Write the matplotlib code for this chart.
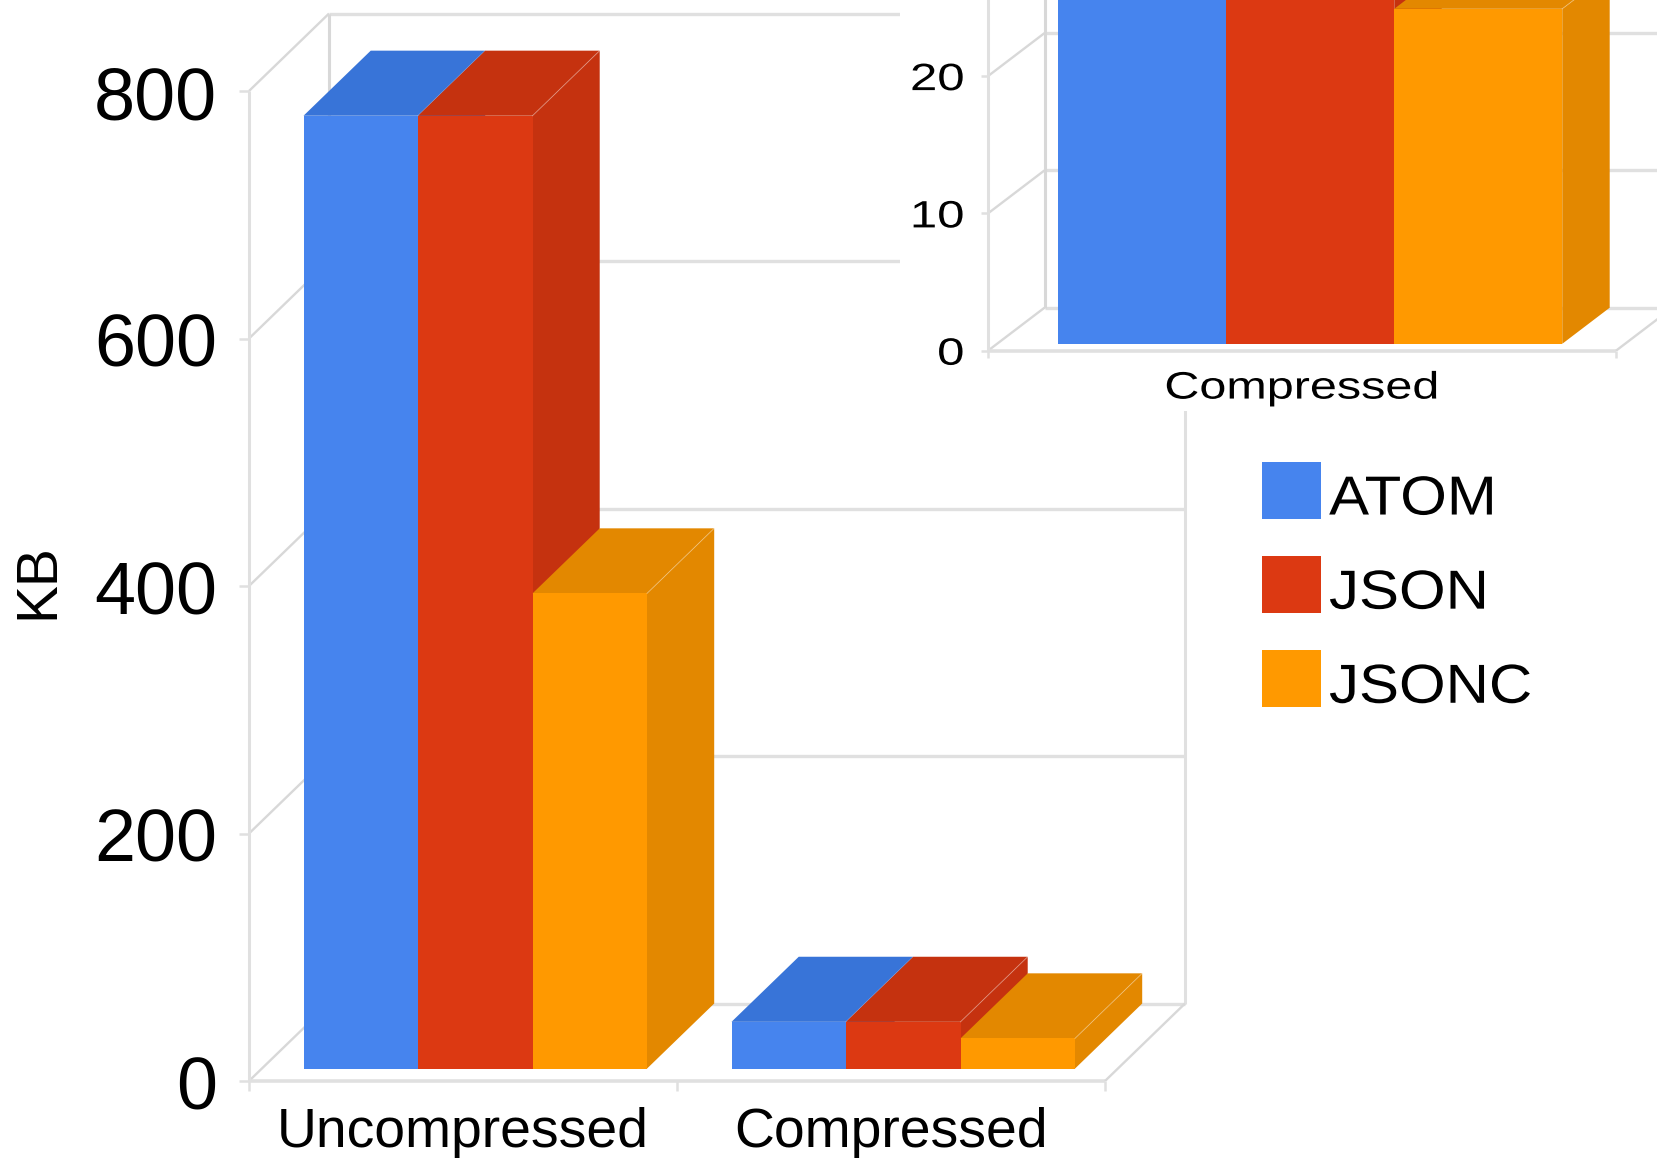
import matplotlib
matplotlib.use('Agg')
import matplotlib.pyplot as plt
from matplotlib.patches import Patch, Polygon, Rectangle
from matplotlib.patheffects import AbstractPathEffect
from matplotlib.transforms import Affine2D, ScaledTranslation

W, H = 1657, 1158

plt.rcParams['font.family'] = ['Liberation Sans', 'DejaVu Sans']

series_names = ['ATOM', 'JSON', 'JSONC']
categories = ['Uncompressed', 'Compressed']
atom_kb = [770, 37.8]
json_kb = [770, 37.8]
jsonc_kb = [384, 24.4]
kb_ticks = [0, 200, 400, 600, 800]

zoom_categories = ['Compressed']
zoom_ticks = [0, 10, 20]
zoom_grid = [0, 10, 20, 30]

front_colors = ['#4684EE', '#DC3912', '#FF9900']
shade_colors = ['#3874D8', '#C5320F', '#E38800']
GRID = '#E0E0E0'
WALL = '#D8D8D8'


class StretchX(AbstractPathEffect):
    # widen glyphs horizontally, keeping one edge of the text fixed
    def __init__(self, sx, anchor='center'):
        super().__init__()
        self.sx = sx
        self.anchor = anchor

    def draw_path(self, renderer, gc, tpath, affine, rgbFace=None):
        box = tpath.get_extents(affine)
        if self.anchor == 'right':
            cx = box.x1
        elif self.anchor == 'left':
            cx = box.x0
        else:
            cx = (box.x0 + box.x1) / 2
        stretched = affine + Affine2D().translate(-cx, 0).scale(self.sx, 1).translate(cx, 0)
        renderer.draw_path(gc, tpath, stretched, rgbFace)


def px_axes(fig, left, right, top, bottom):
    # axes whose box is given in image pixels (y counted from the top)
    return fig.add_axes([left / W, 1 - bottom / H, (right - left) / W, (bottom - top) / H])


def draw_box_chart(ax, n_cat, values, grid_values, top, kx, ky):
    # oblique projection: depth d moves a point by d*kx, d*ky in data units
    def proj(x, y, d):
        return (x + d * kx, y + d * ky)

    def line(p, q, color=GRID, lw=2.0):
        ax.plot([p[0], q[0]], [p[1], q[1]], color=color, lw=lw, clip_on=False,
                solid_capstyle='butt', zorder=1)

    # walls and floor
    for v in grid_values:
        line(proj(0, v, 0), proj(0, v, 1), WALL, 1.7)
        line(proj(0, v, 1), proj(n_cat, v, 1), GRID, 2.4)
    line(proj(0, 0, 0), proj(n_cat, 0, 0), GRID, 2.6)
    line(proj(0, 0, 0), proj(0, top, 0), GRID, 2.2)
    line(proj(0, 0, 1), proj(0, top, 1), WALL, 2.2)
    line(proj(n_cat, 0, 1), proj(n_cat, top, 1), GRID, 2.2)
    line(proj(n_cat, 0, 0), proj(n_cat, 0, 1), WALL, 1.7)

    # bars, painted from left to right
    d0, d1 = 0.16, 1.0
    bar_w = 0.8025 / 3
    for c in range(n_cat):
        for s, vals in enumerate(values):
            v = vals[c]
            x0 = c + 0.0975 + s * bar_w
            x1 = x0 + bar_w
            side = [proj(x1, 0, d0), proj(x1, 0, d1), proj(x1, v, d1), proj(x1, v, d0)]
            roof = [proj(x0, v, d0), proj(x1, v, d0), proj(x1, v, d1), proj(x0, v, d1)]
            face = [proj(x0, 0, d0), proj(x1, 0, d0), proj(x1, v, d0), proj(x0, v, d0)]
            ax.add_patch(Polygon(side, fc=shade_colors[s], ec='none', clip_on=False, zorder=2))
            ax.add_patch(Polygon(roof, fc=shade_colors[s], ec='none', clip_on=False, zorder=2))
            ax.add_patch(Polygon(face, fc=front_colors[s], ec='none', clip_on=False, zorder=2))
            e0, e1 = proj(x1, v, d0), proj(x1, v, d1)
            ax.plot([e0[0], e1[0]], [e0[1], e1[1]], color='white', alpha=0.25, lw=0.8,
                    clip_on=False, zorder=2)


def style_axes(ax, n_cat, labels, ticks, ylim, fs, tick_len, tick_pad, x_pad):
    ax.set_xlim(0, n_cat)
    ax.set_ylim(*ylim)
    ax.set_frame_on(False)
    ax.set_yticks(ticks)
    ax.set_xticks([i + 0.5 for i in range(n_cat)], labels)
    ax.set_xticks(list(range(n_cat + 1)), minor=True)
    ax.tick_params(axis='y', length=tick_len, width=1.8, color=GRID, pad=tick_pad,
                   labelsize=fs['y'], labelcolor='black')
    ax.tick_params(axis='x', which='major', length=0, pad=x_pad, labelsize=fs['x'])
    ax.tick_params(axis='x', which='minor', length=tick_len, width=1.8, color=GRID)


fig = plt.figure(figsize=(W / 100, H / 100), dpi=100, facecolor='white')

# main chart
ax = px_axes(fig, 249, 1105, 91, 1081)
ax.set_zorder(1)
draw_box_chart(ax, 2, [atom_kb, json_kb, jsonc_kb], kb_ticks, 800, 80 / 428, 62.6)
style_axes(ax, 2, categories, kb_ticks, (0, 800), {'x': 39.8, 'y': 53}, 7, 16.2, 18.8)
ax.set_ylabel('KB', fontsize=41)
ax.yaxis.set_label_coords(-0.214, 0.505)
nudge = ScaledTranslation(0, -1 / 72, fig.dpi_scale_trans)
for lab in ax.get_yticklabels():
    lab.set_transform(lab.get_transform() + nudge)

handles = [Patch(fc=c, ec='none') for c in front_colors]
leg = ax.legend(handles, series_names, loc='upper left', bbox_to_anchor=(1262 / W, 1 - 462 / H),
                bbox_transform=fig.transFigure, frameon=False, fontsize=39.6, borderpad=0,
                borderaxespad=0, handlelength=1.07, handleheight=1.217, handletextpad=0.15,
                labelspacing=0.638)
for txt in leg.get_texts():
    txt.set_y(-5.5)
    txt.set_path_effects([StretchX(1.09, 'left')])

# zoomed view of the compressed group, on its own white panel
px_per_unit = 13.73
zoom = px_axes(fig, 988, 1616, 0, 350.7)
zoom.set_zorder(2)
zoom.add_patch(Rectangle((900 / W, 1 - 411 / H), 757 / W, 411 / H, transform=fig.transFigure,
                         fc='white', ec='none', clip_on=False, zorder=0))
compressed = [[atom_kb[1]], [json_kb[1]], [jsonc_kb[1]]]
draw_box_chart(zoom, 1, compressed, zoom_grid, zoom_grid[-1], 56.5 / 628, 43 / px_per_unit)
style_axes(zoom, 1, zoom_categories, zoom_ticks, (0, 350.7 / px_per_unit),
           {'x': 27.5, 'y': 27.4}, 4.7, 12.6, 14.3)
for lab in zoom.get_yticklabels():
    lab.set_path_effects([StretchX(1.29, 'right')])
for lab in zoom.get_xticklabels():
    lab.set_path_effects([StretchX(1.27)])

fig.savefig('out.png', dpi=100, facecolor='white')
